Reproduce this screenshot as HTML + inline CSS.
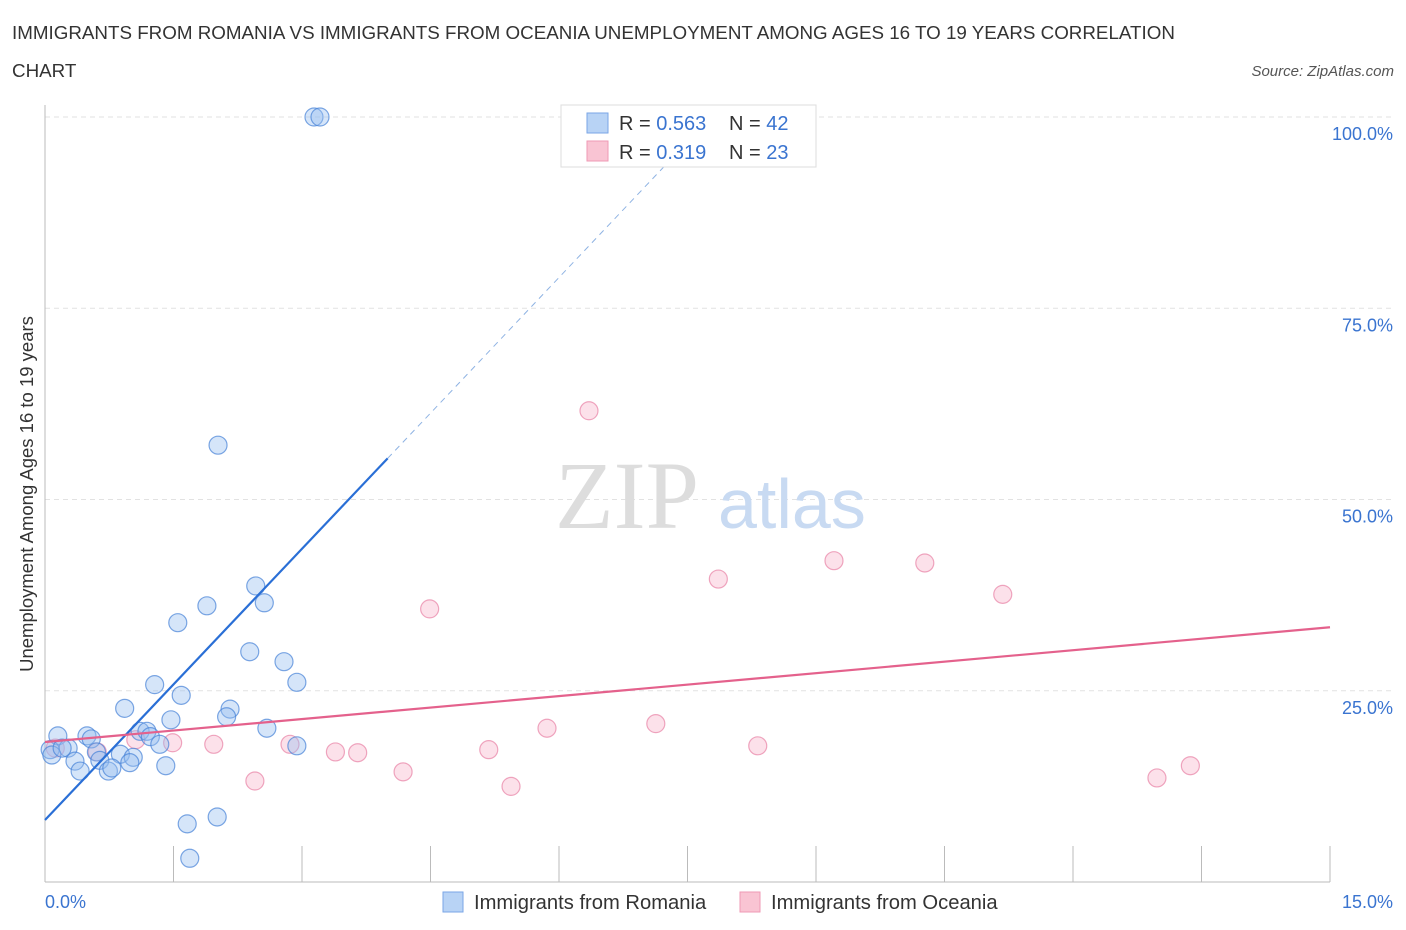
<!DOCTYPE html>
<html><head><meta charset="utf-8"><style>
body{margin:0;background:#fff;font-family:"Liberation Sans",sans-serif;}
#wrap{position:relative;width:1406px;height:930px;overflow:hidden;}
</style></head><body>
<div id="wrap">
<svg id="chart" width="1406" height="930">
<text x="12" y="39" font-size="18.8" fill="#333">IMMIGRANTS FROM ROMANIA VS IMMIGRANTS FROM OCEANIA UNEMPLOYMENT AMONG AGES 16 TO 19 YEARS CORRELATION</text>
<text x="12" y="77" font-size="18.8" fill="#333">CHART</text>
<text x="1394" y="76" font-size="15" fill="#555" font-style="italic" text-anchor="end">Source: ZipAtlas.com</text>
<text x="33" y="494" font-size="18.5" fill="#333" text-anchor="middle" transform="rotate(-90 33 494)">Unemployment Among Ages 16 to 19 years</text>
<g id="grid"></g>
<text x="555" y="528" font-size="96" fill="#ddd" font-family="Liberation Serif,serif">ZIP</text>
<text x="718" y="528" font-size="70" fill="#c8daf2">atlas</text>
<g id="marks"></g>
<g>
<rect x="561" y="105" width="255" height="62" fill="#fff" stroke="#ddd"/>
<rect x="587" y="113" width="21" height="20" fill="#b8d3f5" stroke="#7aa6e6"/>
<rect x="587" y="141" width="21" height="20" fill="#f9c4d3" stroke="#ef9ab4"/>
<text x="619" y="130" font-size="20" fill="#333">R = <tspan fill="#3a74d0">0.563</tspan></text>
<text x="729" y="130" font-size="20" fill="#333">N = <tspan fill="#3a74d0">42</tspan></text>
<text x="619" y="159" font-size="20" fill="#333">R = <tspan fill="#3a74d0"> 0.319</tspan></text>
<text x="729" y="159" font-size="20" fill="#333">N = <tspan fill="#3a74d0">23</tspan></text>
</g>
<g>
<rect x="443" y="892" width="20" height="20" fill="#b8d3f5" stroke="#7aa6e6"/>
<text x="474" y="909" font-size="20.2" fill="#333">Immigrants from Romania</text>
<rect x="740" y="892" width="20" height="20" fill="#f9c4d3" stroke="#ef9ab4"/>
<text x="771" y="909" font-size="20.2" fill="#333">Immigrants from Oceania</text>
</g>
</svg></div>
<script>
const blueX=[3.14,3.21,2.02,2.46,1.89,2.56,1.55,2.39,2.79,2.94,1.28,1.59,0.93,2.16,2.12,1.47,2.59,1.11,1.19,1.23,1.34,2.94,0.15,0.49,0.54,0.27,0.06,0.60,0.88,0.35,0.64,1.03,0.99,1.41,0.41,0.74,0.78,1.66,2.01,1.69,0.08,0.20];
const blueY=[100,100,57.1,38.7,36.1,36.5,33.9,30.1,28.8,26.1,25.8,24.4,22.7,22.6,21.6,21.2,20.1,19.7,19.7,19.0,18.0,17.8,19.1,19.1,18.7,17.5,17.3,17.0,16.7,15.8,15.9,16.3,15.6,15.2,14.5,14.5,14.9,7.6,8.5,3.1,16.6,17.5];
const pinkX=[6.35,9.21,10.27,7.86,11.18,4.49,7.13,5.86,5.18,8.32,3.39,3.65,2.86,1.97,1.49,1.06,4.18,5.44,2.45,12.98,13.37,0.12,0.61];
const pinkY=[61.6,42.0,41.7,39.6,37.6,35.7,20.7,20.1,17.3,17.8,17.0,16.9,18.0,18.0,18.2,18.6,14.4,12.5,13.2,13.6,15.2,17.5,17.0];
const yTicks=[25,50,75,100];
const yTickLabels=["25.0%","50.0%","75.0%","100.0%"];
const xTicks=[0,1.5,3,4.5,6,7.5,9,10.5,12,13.5,15];
const blueFit=[8.1,11.82];
const pinkFit=[18.3,1.0];

const X=v=>45+v*(1285/15);
const Y=v=>882-v*7.65;
const NS="http://www.w3.org/2000/svg";
const grid=document.getElementById('grid'),marks=document.getElementById('marks');
function mk(tag,attrs,parent){const e=document.createElementNS(NS,tag);for(const k in attrs)e.setAttribute(k,attrs[k]);parent.appendChild(e);return e;}

yTicks.forEach((t,i)=>{
 const l=mk('line',{x1:45,x2:1395,y1:Y(t),y2:Y(t),stroke:'#e2e2e2','stroke-dasharray':'5,4'},grid);
 
 
 const tx=mk('text',{x:1393,y:Y(t)+23,'font-size':18,fill:'#3a74d0','text-anchor':'end'},grid);
 tx.textContent=yTickLabels[i];
 
 
});
const ax=mk('line',{x1:45,x2:45,y1:105,y2:882,stroke:'#bbb'},grid);


const bx=mk('line',{x1:45,x2:1330,y1:882,y2:882,stroke:'#bbb'},grid);


xTicks.forEach(t=>{
 const l=mk('line',{x1:X(t),x2:X(t),y1:846,y2:882,stroke:'#bbb'},grid);
 
 
});
const xl0=mk('text',{x:45,y:908,'font-size':18,fill:'#3a74d0'},grid);xl0.textContent='0.0%';


const xl1=mk('text',{x:1393,y:908,'font-size':18,fill:'#3a74d0','text-anchor':'end'},grid);xl1.textContent='15.0%';



pinkX.forEach((x,i)=>{
 const c=mk('circle',{cx:X(x),cy:Y(pinkY[i]),r:9,fill:'rgba(245,170,195,0.35)',stroke:'rgba(232,130,165,0.7)','stroke-width':1.2},marks);
 
 
});
blueX.forEach((x,i)=>{
 const c=mk('circle',{cx:X(x),cy:Y(blueY[i]),r:9,fill:'rgba(150,190,240,0.4)',stroke:'rgba(70,130,215,0.7)','stroke-width':1.2},marks);
 
 
});
const bf=x=>blueFit[0]+blueFit[1]*x;
const l1=mk('line',{x1:X(0),y1:Y(bf(0)),x2:X(4),y2:Y(bf(4)),stroke:'#2a6fd6','stroke-width':2.2},marks);


const l2=mk('line',{x1:X(4),y1:Y(bf(4)),x2:X(7.25),y2:Y(bf(7.25)),stroke:'#8fb3e3','stroke-width':1,'stroke-dasharray':'6,5'},marks);


const pf=x=>pinkFit[0]+pinkFit[1]*x;
const l3=mk('line',{x1:X(0),y1:Y(pf(0)),x2:X(15),y2:Y(pf(15)),stroke:'#e4618c','stroke-width':2.2},marks);


</script>
</body></html>
